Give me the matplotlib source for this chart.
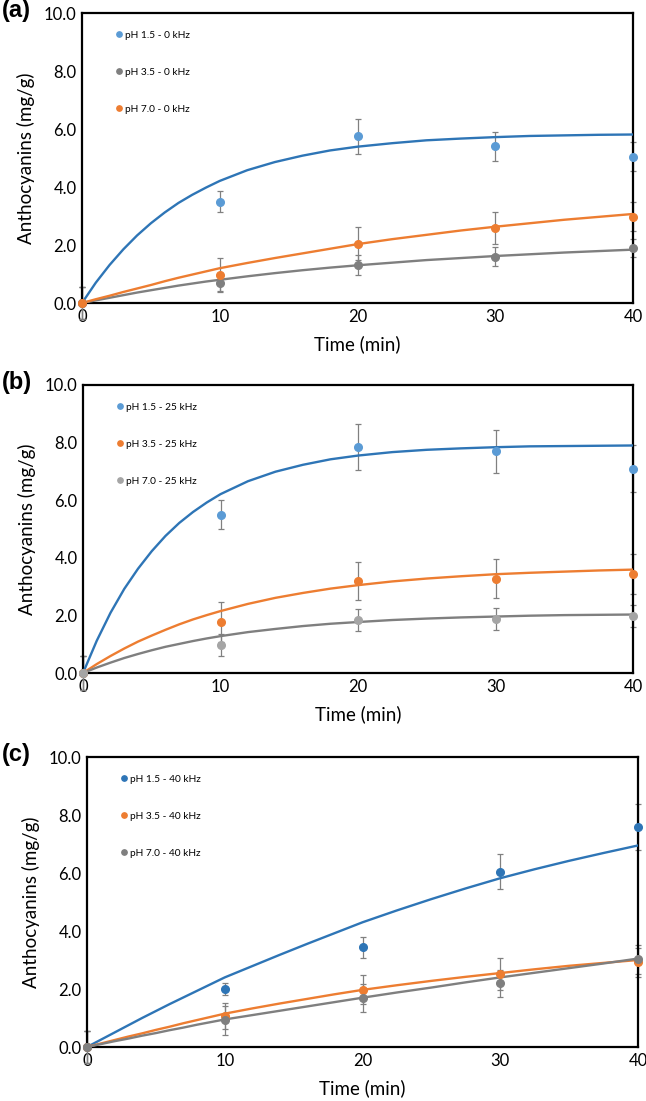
import numpy as np
import matplotlib.pyplot as plt

# ---------- data ----------
t_pts = [0, 10, 20, 30, 40]
t_fit = [0, 1, 2, 3, 4, 5, 6, 7, 8, 9, 10, 12, 14, 16, 18, 20,
         22.5, 25, 27.5, 30, 32.5, 35, 37.5, 40]

# (a) 0 kHz
a_labels = ['pH 1.5 - 0 kHz', 'pH 3.5 - 0 kHz', 'pH 7.0 - 0 kHz']
a_pts = [[0, 3.5, 5.75, 5.4, 5.05],
         [0, 0.7, 1.31, 1.59, 1.9],
         [0, 0.98, 2.05, 2.6, 2.97]]
a_err = [[0.55, 0.35, 0.6, 0.5, 0.5],
         [0.55, 0.32, 0.34, 0.33, 0.3],
         [0.55, 0.57, 0.58, 0.55, 0.5]]
a_fit = [[0, 0.70, 1.31, 1.85, 2.33, 2.75, 3.12, 3.45, 3.73, 3.98, 4.21, 4.58, 4.86, 5.08,
          5.26, 5.39, 5.51, 5.61, 5.67, 5.72, 5.76, 5.78, 5.80, 5.81],
         [0, 0.09, 0.18, 0.27, 0.36, 0.44, 0.52, 0.6, 0.67, 0.74, 0.8, 0.92, 1.03, 1.13,
          1.22, 1.3, 1.39, 1.48, 1.55, 1.62, 1.68, 1.74, 1.79, 1.84],
         [0, 0.13, 0.25, 0.38, 0.5, 0.62, 0.75, 0.87, 0.98, 1.09, 1.2, 1.38, 1.55, 1.71,
          1.87, 2.03, 2.2, 2.35, 2.5, 2.63, 2.75, 2.87, 2.97, 3.07]]

# (b) 25 kHz
b_labels = ['pH 1.5 - 25 kHz', 'pH 3.5 - 25 kHz', 'pH 7.0 - 25 kHz']
b_pts = [[0, 5.5, 7.85, 7.7, 7.1],
         [0, 1.77, 3.2, 3.28, 3.44],
         [0, 0.97, 1.85, 1.88, 1.99]]
b_err = [[0.6, 0.5, 0.8, 0.75, 0.8],
         [0.6, 0.7, 0.67, 0.68, 0.7],
         [0.6, 0.38, 0.38, 0.38, 0.38]]
b_fit = [[0, 1.12, 2.09, 2.92, 3.62, 4.23, 4.76, 5.21, 5.59, 5.92, 6.21, 6.66, 6.99, 7.23,
          7.42, 7.55, 7.67, 7.75, 7.80, 7.84, 7.87, 7.88, 7.89, 7.90],
         [0, 0.31, 0.59, 0.85, 1.09, 1.30, 1.50, 1.69, 1.86, 2.01, 2.15, 2.40, 2.61, 2.78,
          2.93, 3.05, 3.18, 3.28, 3.36, 3.43, 3.48, 3.52, 3.56, 3.59],
         [0, 0.19, 0.36, 0.52, 0.66, 0.79, 0.91, 1.01, 1.11, 1.20, 1.28, 1.42, 1.53, 1.63,
          1.71, 1.77, 1.84, 1.89, 1.93, 1.96, 1.99, 2.01, 2.02, 2.03]]

# (c) 40 kHz
c_labels = ['pH 1.5 - 40 kHz', 'pH 3.5 - 40 kHz', 'pH 7.0 - 40 kHz']
c_pts = [[0, 2.0, 3.44, 6.04, 7.58],
         [0, 1.08, 1.97, 2.52, 2.92],
         [0, 0.92, 1.69, 2.2, 3.03]]
c_err = [[0.55, 0.2, 0.36, 0.6, 0.8],
         [0.55, 0.45, 0.5, 0.55, 0.5],
         [0.55, 0.5, 0.48, 0.47, 0.5]]
c_fit = [[0, 0.25, 0.5, 0.75, 1.0, 1.24, 1.48, 1.71, 1.94, 2.17, 2.4, 2.79, 3.18, 3.56,
          3.93, 4.3, 4.71, 5.1, 5.47, 5.82, 6.13, 6.42, 6.69, 6.95],
         [0, 0.12, 0.24, 0.36, 0.47, 0.59, 0.7, 0.82, 0.93, 1.04, 1.15, 1.33, 1.5, 1.66,
          1.82, 1.97, 2.13, 2.28, 2.42, 2.55, 2.68, 2.8, 2.9, 3.0],
         [0, 0.1, 0.2, 0.29, 0.39, 0.48, 0.58, 0.67, 0.77, 0.86, 0.95, 1.1, 1.25, 1.4,
          1.55, 1.7, 1.88, 2.05, 2.23, 2.4, 2.56, 2.72, 2.88, 3.05]]

y_ticks = [0, 2, 4, 6, 8, 10]
x_ticks = [0, 10, 20, 30, 40]

BLUE_L = '#5B9BD5'
BLUE_D = '#2E75B6'
ORANGE = '#ED7D31'
GRAY = '#7F7F7F'
GRAY_L = '#A5A5A5'

panels = [
    ('(a)', a_labels, a_pts, a_err, a_fit,
     [BLUE_L, GRAY, ORANGE], [BLUE_D, GRAY, ORANGE],
     [82, 303, 633, 13]),
    ('(b)', b_labels, b_pts, b_err, b_fit,
     [BLUE_L, ORANGE, GRAY_L], [BLUE_D, ORANGE, GRAY],
     [83, 673, 633, 385]),
    ('(c)', c_labels, c_pts, c_err, c_fit,
     [BLUE_D, ORANGE, GRAY], [BLUE_D, ORANGE, GRAY],
     [87, 1047, 638, 757]),
]

W, H = 646, 1101
plt.rcParams['font.family'] = ['Lato', 'DejaVu Sans']
fig = plt.figure(figsize=(W / 100, H / 100), dpi=100)

for tag, labels, pts, err, fit, pcol, lcol, box in panels:
    x0, yb, x1, yt = box
    ax = fig.add_axes([x0 / W, (H - yb) / H, (x1 - x0) / W, (yb - yt) / H])
    handles = []
    for i in range(3):
        ax.errorbar(t_pts, pts[i], yerr=err[i], fmt='none', ecolor='#808080',
                    elinewidth=0.9, capsize=2, capthick=0.9, zorder=2, clip_on=False)
        ax.plot(t_fit, fit[i], color=lcol[i], lw=1.7, zorder=3)
        h, = ax.plot(t_pts, pts[i], 'o', color=pcol[i], ms=5.5, zorder=4,
                     clip_on=False, label=labels[i])
        handles.append(h)
    ax.set_xlim(0, 40)
    ax.set_ylim(0, 10)
    ax.set_xticks(x_ticks)
    ax.set_yticks(y_ticks)
    ax.set_yticklabels(['%.1f' % v for v in y_ticks])
    ax.tick_params(length=0, labelsize=12, pad=4)
    for s in ax.spines.values():
        s.set_linewidth(1.6)
        s.set_color('black')
    ax.set_xlabel('Time (min)', fontsize=13.5, labelpad=8)
    ax.set_ylabel('Anthocyanins (mg/g)', fontsize=13.5, labelpad=6)
    ax.legend(handles=handles, loc='upper left', bbox_to_anchor=(0.045, 0.97),
              frameon=False, fontsize=7.3, handlelength=0.6, handletextpad=0.3,
              markerscale=0.7, labelspacing=2.75)
    fig.text(2 / W, (H - yt + 2) / H, tag, fontsize=17, fontweight='bold',
             family='Liberation Sans', va='center', ha='left')

fig.savefig('out.png', dpi=100)
